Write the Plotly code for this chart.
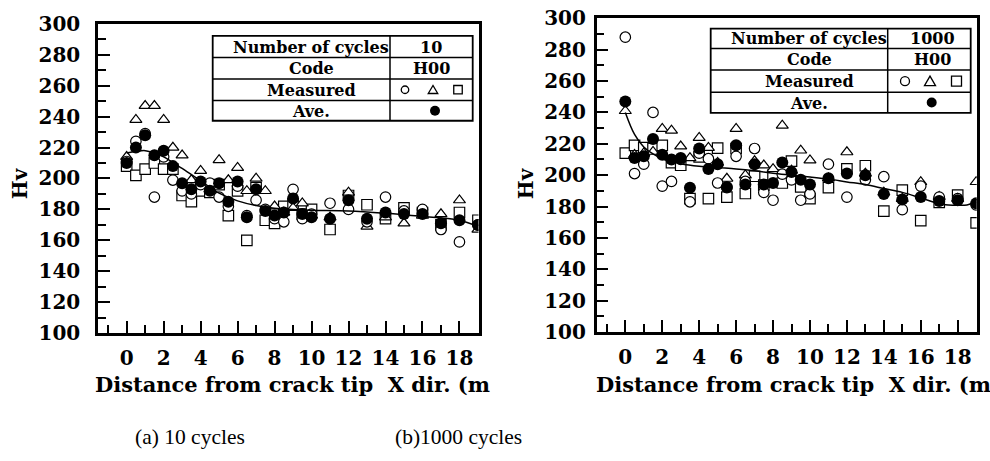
import plotly.graph_objects as go

# ---------------- data ----------------
X = [0, 0.5, 1, 1.5, 2, 2.5, 3, 3.5, 4, 4.5, 5, 5.5, 6, 6.5, 7, 7.5, 8, 8.5, 9, 9.5, 10,
     11, 12, 13, 14, 15, 16, 17, 18, 19]

# (a) 10 cycles
ave_10 = [210, 220, 228, 215, 218, 208, 197, 193, 198, 192, 197, 185, 198, 175, 193, 179, 176, 178, 187, 177, 175,
          174, 186, 174, 178, 177, 177, 171, 173, 170]
circ_10 = [211, 224, 229, 188, 214, 199, 192, 190, 196, 197, 188, 182, 195, 176, 186, 180, 174, 172, 193, 174, 177,
           184, 180, 172, 188, 179, 180, 167, 159, 170]
tri_10 = [214, 238, 247, 247, 238, 220, 215, 199, 205, 193, 212, 199, 207, 192, 200, 192, 182, 178, 181, 184, 176,
          175, 191, 169, 175, 171, 176, 177, 186, 167]
sq_10 = [208, 202, 206, 210, 206, 206, 189, 185, 192, 191, 196, 176, 192, 160, 194, 173, 171, 182, 183, 177, 180,
         167, 189, 183, 174, 181, 178, 170, 178, 173]
fit_x_10 = [0, 0.5, 1, 1.5, 2, 3, 4, 5, 6, 7, 8, 9, 10, 12, 14, 16, 17, 18, 19]
fit_y_10 = [216.5, 217.5, 218, 216.5, 214, 206.5, 198.5, 190.5, 185.5, 182.5, 180.8, 180, 179.5, 179, 177.5, 175.5,
            174.5, 173, 169]

# (b) 1000 cycles
ave_1000 = [247, 211, 212, 223, 213, 210, 211, 192, 217, 204, 207, 192.5, 219, 194, 207, 194, 195, 208, 202, 197, 194,
            198, 201, 200, 188, 184.5, 186, 183.5, 184, 182]
circ_1000 = [288, 201, 207, 240, 193, 196, 210, 183, 214, 210.5, 195, 192, 212, 196, 217, 189, 184, 200.6, 197, 184, 188,
             207, 186, 197, 199, 178, 193, 186, 185, 181]
tri_1000 = [241, 213, 214, 215, 229.6, 228.5, 218.4, 211, 223.9, 217.5, 208, 197.8, 229.6, 200, 209, 206.3, 204, 231.7,
            203, 215.8, 209.5, 198, 214.7, 201, 189, 185, 195.7, 186.2, 185, 195.7]
sq_1000 = [214, 219, 217.5, 217, 219, 208, 206.3, 185, 211.6, 185, 217.3, 186, 217, 188.3, 199.3, 193.6, 200, 195, 209,
           192.5, 185, 192, 204, 206, 177, 190.4, 171, 182.6, 187.2, 169.6]
fit_x_1000 = [0, 0.5, 1, 1.5, 2, 2.5, 3, 4, 5, 6, 7, 8, 9, 10, 11, 12, 13, 14, 15, 16, 17, 17.5, 18, 18.5, 19]
fit_y_1000 = [240, 226, 218, 213.5, 210.5, 208.7, 207.3, 205.7, 204.8, 204, 202.8, 201.2, 200, 198.8, 197.5, 195.7,
              194, 191.5, 189, 185.5, 181.8, 181, 180.8, 181, 183]

x_ticks = [0, 2, 4, 6, 8, 10, 12, 14, 16, 18]
y_ticks = [100, 120, 140, 160, 180, 200, 220, 240, 260, 280, 300]

panels = [
    dict(cycles="10", ave=ave_10, circ=circ_10, tri=tri_10, sq=sq_10, fx=fit_x_10, fy=fit_y_10,
         caption="(a) 10 cycles"),
    dict(cycles="1000", ave=ave_1000, circ=circ_1000, tri=tri_1000, sq=sq_1000, fx=fit_x_1000, fy=fit_y_1000,
         caption="(b)1000 cycles"),
]

# ---------------- layout geometry (target pixels in the picture) ----------------
W, H = 990, 461
geo = [
    dict(x0=98, x1=478.5, y0=23, y1=333.5, lab_stand=11, hv=(20, 183), xt=(93, 385),
         tab=dict(l=212.7, m=390, r=472.7, t=35, rows=[56.7, 78.3, 100], b=120.3,
                  lc=311, rc=431, sym=[405, 433, 458], fill=435, s=8.5),
         cap=(133, 438)),
    dict(x0=596.7, x1=976.7, y0=17.5, y1=332.3, lab_stand=4, hv=(526, 183), xt=(594, 385),
         tab=dict(l=710.7, m=887.7, r=970.7, t=27.7, rows=[47.7, 69.3, 91.7], b=112.3,
                  lc=809, rc=932, sym=[905, 930, 956.5], fill=931.7, s=10),
         cap=(393, 438)),
]

# the photographed page shows the figure slightly squeezed vertically; compensate
SY, OY = 0.9517, 11.1

def px(x):
    return x / W

def py(y):
    yf = (y - OY) / SY
    return 1 - yf / H

SERIF = "DejaVu Serif"
fig = go.Figure()
shapes = []
annotations = []

for i, (p, g) in enumerate(zip(panels, geo)):
    xa = "x" if i == 0 else "x2"
    ya = "y" if i == 0 else "y2"
    mk = dict(line=dict(color="black", width=1.2), color="white", size=10.5)
    fig.add_trace(go.Scatter(x=X, y=p["sq"], mode="markers", xaxis=xa, yaxis=ya, showlegend=False,
                             marker=dict(symbol="square", **mk)))
    fig.add_trace(go.Scatter(x=X, y=p["tri"], mode="markers", xaxis=xa, yaxis=ya, showlegend=False,
                             marker=dict(symbol="triangle-up", **mk)))
    fig.add_trace(go.Scatter(x=X, y=p["circ"], mode="markers", xaxis=xa, yaxis=ya, showlegend=False,
                             marker=dict(symbol="circle", **mk)))
    fig.add_trace(go.Scatter(x=p["fx"], y=p["fy"], mode="lines", xaxis=xa, yaxis=ya, showlegend=False,
                             line=dict(color="black", width=1.5, shape="spline", smoothing=1.0)))
    fig.add_trace(go.Scatter(x=X, y=p["ave"], mode="markers", xaxis=xa, yaxis=ya, showlegend=False,
                             marker=dict(symbol="circle", color="black", size=12,
                                         line=dict(color="black", width=0))))

    axis_common = dict(showline=True, linecolor="black", linewidth=2.5, mirror=True,
                       showgrid=False, zeroline=False, ticks="inside", tickcolor="black",
                       tickwidth=1.5,
                       tickfont=dict(family=SERIF, size=20, color="black", weight="bold"))
    xdict = dict(axis_common, domain=[px(g["x0"]), px(g["x1"])], range=[-1.55, 19.03],
                 tickvals=x_ticks, ticktext=[str(v) for v in x_ticks], ticklen=12,
                 ticklabelstandoff=5,
                 minor=dict(ticks="inside", dtick=1, tick0=0, ticklen=8, tickwidth=1.5, tickcolor="black"),
                 anchor=ya)
    ydict = dict(axis_common, domain=[py(g["y1"]), py(g["y0"])], range=[100, 300],
                 tickvals=y_ticks, ticktext=[str(v) for v in y_ticks], ticklen=12,
                 ticklabelstandoff=g["lab_stand"],
                 minor=dict(ticks="inside", dtick=10, tick0=100, ticklen=8, tickwidth=1.5, tickcolor="black"),
                 anchor=xa)
    if i == 0:
        fig.update_layout(xaxis=xdict, yaxis=ydict)
    else:
        fig.update_layout(xaxis2=xdict, yaxis2=ydict)

    # axis titles
    annotations.append(dict(text="Hv", x=px(g["hv"][0]), y=py(g["hv"][1]), xref="paper", yref="paper",
                            showarrow=False, textangle=-90, xanchor="center", yanchor="middle",
                            font=dict(family=SERIF, size=20, color="black", weight="bold")))
    xt_text = "Distance from crack tip  X dir. (m"
    annotations.append(dict(text=xt_text, x=px(g["xt"][0]), y=py(g["xt"][1]), xref="paper", yref="paper",
                            showarrow=False, xanchor="left", yanchor="middle",
                            font=dict(family=SERIF, size=21, color="black", weight="bold")))
    annotations.append(dict(text=p["caption"], x=px(g["cap"][0]), y=py(g["cap"][1]), xref="paper",
                            yref="paper", showarrow=False, xanchor="left", yanchor="middle",
                            font=dict(family="Liberation Serif", size=21.5, color="black")))

    # table
    t = g["tab"]
    shapes.append(dict(type="rect", xref="paper", yref="paper", x0=px(t["l"]), x1=px(t["r"]),
                       y0=py(t["b"]), y1=py(t["t"]), line=dict(color="black", width=1.8),
                       fillcolor="white", layer="above"))
    shapes.append(dict(type="line", xref="paper", yref="paper", x0=px(t["m"]), x1=px(t["m"]),
                       y0=py(t["b"]), y1=py(t["t"]), line=dict(color="black", width=1.5), layer="above"))
    for ry in t["rows"]:
        shapes.append(dict(type="line", xref="paper", yref="paper", x0=px(t["l"]), x1=px(t["r"]),
                           y0=py(ry), y1=py(ry), line=dict(color="black", width=1.5), layer="above"))
    edges = [t["t"]] + t["rows"] + [t["b"]]
    centers = [(edges[k] + edges[k + 1]) / 2 for k in range(4)]
    left_txt = ["Number of cycles", "Code", "Measured", "Ave."]
    right_txt = [p["cycles"], "H00"]
    for k, s in enumerate(left_txt):
        annotations.append(dict(text=s, x=px(t["lc"]), y=py(centers[k] + 0.5), xref="paper", yref="paper",
                                showarrow=False, xanchor="center", yanchor="middle",
                                font=dict(family=SERIF, size=16, color="black", weight="bold")))
    for k, s in enumerate(right_txt):
        annotations.append(dict(text=s, x=px(t["rc"]), y=py(centers[k] + 0.5), xref="paper", yref="paper",
                                showarrow=False, xanchor="center", yanchor="middle",
                                font=dict(family=SERIF, size=16, color="black", weight="bold")))
    s = t["s"]
    cy = centers[2]
    cx0, cx1, cx2 = t["sym"]
    shapes.append(dict(type="circle", xref="paper", yref="paper", x0=px(cx0 - s / 2 + 0.5), x1=px(cx0 + s / 2 - 0.5),
                       y0=py(cy + s / 2 - 0.5), y1=py(cy - s / 2 + 0.5), line=dict(color="black", width=1.3),
                       layer="above"))
    path = "M {} {} L {} {} L {} {} Z".format(px(cx1 - s / 2 - 0.5), py(cy + s / 2 - 0.5),
                                             px(cx1 + s / 2 + 0.5), py(cy + s / 2 - 0.5),
                                             px(cx1), py(cy - s / 2))
    shapes.append(dict(type="path", xref="paper", yref="paper", path=path,
                       line=dict(color="black", width=1.3), layer="above"))
    shapes.append(dict(type="rect", xref="paper", yref="paper", x0=px(cx2 - s / 2), x1=px(cx2 + s / 2),
                       y0=py(cy + s / 2), y1=py(cy - s / 2), line=dict(color="black", width=1.3),
                       layer="above"))
    fy = centers[3]
    shapes.append(dict(type="circle", xref="paper", yref="paper", x0=px(t["fill"] - 5), x1=px(t["fill"] + 5),
                       y0=py(fy + 5), y1=py(fy - 5), line=dict(color="black", width=0),
                       fillcolor="black", layer="above"))

fig.update_layout(width=W, height=H, margin=dict(l=0, r=0, t=0, b=0),
                  paper_bgcolor="white", plot_bgcolor="white",
                  shapes=shapes, annotations=annotations)

fig.write_html("out.html")
